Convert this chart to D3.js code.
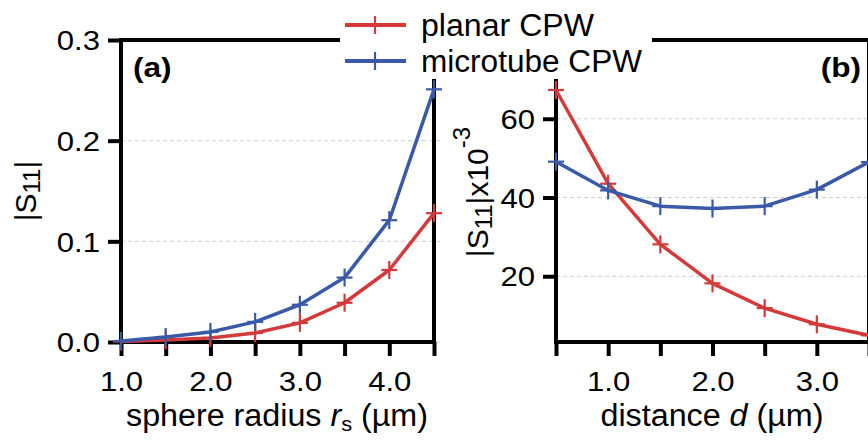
<!DOCTYPE html>
<html><head><meta charset="utf-8">
<script src="https://cdn.jsdelivr.net/npm/d3@7"></script>
<style>
body{margin:0;background:#fff}
text{font-family:"Liberation Sans",Arial,Helvetica,sans-serif;fill:#000}
</style>
</head><body>
<svg id="c" width="868" height="441"></svg>
<script>
// ---- data ----
const radius   = [1.0, 1.5, 2.0, 2.5, 3.0, 3.5, 4.0, 4.5];
const planarA  = [0.0005, 0.002, 0.004, 0.009, 0.019, 0.039, 0.0715, 0.128];
const microA   = [0.001, 0.005, 0.010, 0.020, 0.037, 0.064, 0.121, 0.251];
const distance = [0.5, 1.0, 1.5, 2.0, 2.5, 3.0, 3.5];
const planarB  = [67.3, 43.5, 28.1, 18.2, 11.9, 7.8, 5.0];
const microB   = [49.1, 41.8, 37.8, 37.2, 37.8, 42.0, 49.0];
const seriesNames = ["planar CPW", "microtube CPW"];
const ticksAy = [0, 0.1, 0.2, 0.3];
const ticksAx = [1, 2, 3, 4];
const minorAx = [1.0, 1.5, 2.0, 2.5, 3.0, 3.5, 4.0, 4.5];
const ticksBy = [20, 40, 60];
const ticksBx = [1, 2, 3];
const minorBx = [0.5, 1.0, 1.5, 2.0, 2.5, 3.0, 3.5];

const colors = ["#d43a3a", "#3a5aa8"];
const svg = d3.select("#c");
const TICK_FS = 27, LAB_FS = 31;

function stretch(sel, k, target) {
  sel.each(function () {
    const L = this.getComputedTextLength();
    this.setAttribute("textLength", target != null ? target : L * k);
    this.setAttribute("lengthAdjust", "spacingAndGlyphs");
  });
}

function panel(o) {
  const g = svg.append("g");
  const [x0, x1] = o.x.range(), [y0, y1] = o.y.range(); // y0 bottom, y1 top
  // grid
  g.append("g").selectAll("line").data(o.yt).join("line")
    .attr("x1", x0).attr("x2", x1 + o.gridExt)
    .attr("y1", d => o.y(d)).attr("y2", d => o.y(d))
    .attr("stroke", "#cfcfcf").attr("stroke-width", 1).attr("stroke-dasharray", "4,3");
  // axes via d3
  const ax = g.append("g").attr("transform", `translate(0,${y0})`)
    .call(d3.axisBottom(o.x).tickValues(o.xm).tickSize(14).tickFormat(""));
  ax.select(".domain").remove();
  ax.selectAll("line").attr("stroke", "#000").attr("stroke-width", 4);
  const axl = g.append("g").attr("transform", `translate(0,${y0})`)
    .call(d3.axisBottom(o.x).tickValues(o.xt).tickSize(0).tickPadding(30).tickFormat(d3.format(".1f")));
  axl.select(".domain").remove();
  axl.selectAll("text").attr("font-size", TICK_FS).attr("font-family", null);
  stretch(axl.selectAll("text"), 1.15);
  const ay = g.append("g").attr("transform", `translate(${x0},0)`)
    .call(d3.axisLeft(o.y).tickValues(o.yt).tickSize(13).tickPadding(8).tickFormat(o.yfmt));
  ay.select(".domain").remove();
  ay.selectAll("line").attr("stroke", "#000").attr("stroke-width", 4);
  ay.selectAll("text").attr("font-size", TICK_FS).attr("font-family", null).attr("dy", "0.36em");
  stretch(ay.selectAll("text"), 1.15);
  // frame
  g.append("rect").attr("x", x0).attr("y", y1).attr("width", x1 - x0).attr("height", y0 - y1)
    .attr("fill", "none").attr("stroke", "#000").attr("stroke-width", 4);
  // series (on top of axes)
  o.series.forEach((vals, i) => {
    const pts = o.xs.map((xv, j) => [xv, vals[j]]);
    g.append("path").datum(pts)
      .attr("fill", "none").attr("stroke", colors[i]).attr("stroke-width", 3.5)
      .attr("stroke-linejoin", "round")
      .attr("d", d3.line().x(d => o.x(d[0])).y(d => o.y(d[1])));
    const m = g.append("g").selectAll("g").data(pts).join("g")
      .attr("transform", d => `translate(${o.x(d[0])},${o.y(d[1])})`)
      .attr("stroke", colors[i]).attr("stroke-width", 2.2);
    m.append("line").attr("x1", -8).attr("x2", 8);
    m.append("line").attr("y1", -9).attr("y2", 9);
  });
  return g;
}

const xA = d3.scaleLinear().domain([1.0, 4.5]).range([121, 434]);
const yA = d3.scaleLinear().domain([0, 0.3]).range([342, 40]);
panel({x: xA, y: yA, xs: radius, series: [planarA, microA], xt: ticksAx, xm: minorAx,
  yt: ticksAy, yfmt: d3.format(".1f"), gridExt: 6});

const xB = d3.scaleLinear().domain([0.5, 3.5]).range([556, 869]);
const yB = d3.scaleLinear().domain([3.3, 80]).range([342, 40]);
panel({x: xB, y: yB, xs: distance, series: [planarB, microB], xt: ticksBx, xm: minorBx,
  yt: ticksBy, yfmt: d3.format("d"), gridExt: 0});

// panel labels
const pa = svg.append("text").attr("x", 133).attr("y", 77).attr("font-size", 27).attr("font-weight", "bold").text("(a)");
const pb = svg.append("text").attr("x", 861).attr("y", 77).attr("text-anchor", "end").attr("font-size", 27).attr("font-weight", "bold").text("(b)");
stretch(pa, 1.17); stretch(pb, 1.17);

// x labels
const tA = svg.append("text").attr("x", 277).attr("y", 426).attr("text-anchor", "middle").attr("font-size", LAB_FS);
tA.append("tspan").text("sphere radius ");
tA.append("tspan").attr("font-style", "italic").text("r");
tA.append("tspan").attr("font-size", 21).attr("dy", 5).text("s");
tA.append("tspan").attr("dy", -5).text(" (µm)");
stretch(tA, 1, 302);
const tB = svg.append("text").attr("x", 712).attr("y", 426).attr("text-anchor", "middle").attr("font-size", LAB_FS);
tB.append("tspan").text("distance ");
tB.append("tspan").attr("font-style", "italic").text("d");
tB.append("tspan").text(" (µm)");
stretch(tB, 1, 223);

// y labels
const lA = svg.append("text").attr("transform", "translate(36,191) rotate(-90)").attr("text-anchor", "middle").attr("font-size", 30);
lA.append("tspan").text("|S");
lA.append("tspan").attr("font-size", 24).attr("dy", 4).text("11");
lA.append("tspan").attr("dy", -4).text("|");
const lB = svg.append("text").attr("transform", "translate(488,192) rotate(-90)").attr("text-anchor", "middle").attr("font-size", 30);
lB.append("tspan").text("|S");
lB.append("tspan").attr("font-size", 24).attr("dy", 4).text("11");
lB.append("tspan").attr("dy", -4).text("|x10");
lB.append("tspan").attr("font-size", 24).attr("dy", -18).text("-3");

// legend
const lg = svg.append("g");
lg.append("rect").attr("x", 340).attr("y", 0).attr("width", 312).attr("height", 79).attr("fill", "#fff");
const legW = [173, 221];
seriesNames.forEach((n, i) => {
  const yy = 25 + i * 36;
  lg.append("line").attr("x1", 345).attr("x2", 406).attr("y1", yy).attr("y2", yy)
    .attr("stroke", colors[i]).attr("stroke-width", 4);
  lg.append("line").attr("x1", 375).attr("x2", 375).attr("y1", yy - 9).attr("y2", yy + 9)
    .attr("stroke", colors[i]).attr("stroke-width", 2.2);
  const t = lg.append("text").attr("x", 421).attr("y", yy + 11).attr("font-size", 31).text(n);
  stretch(t, 1, legW[i]);
});
</script>
</body></html>
